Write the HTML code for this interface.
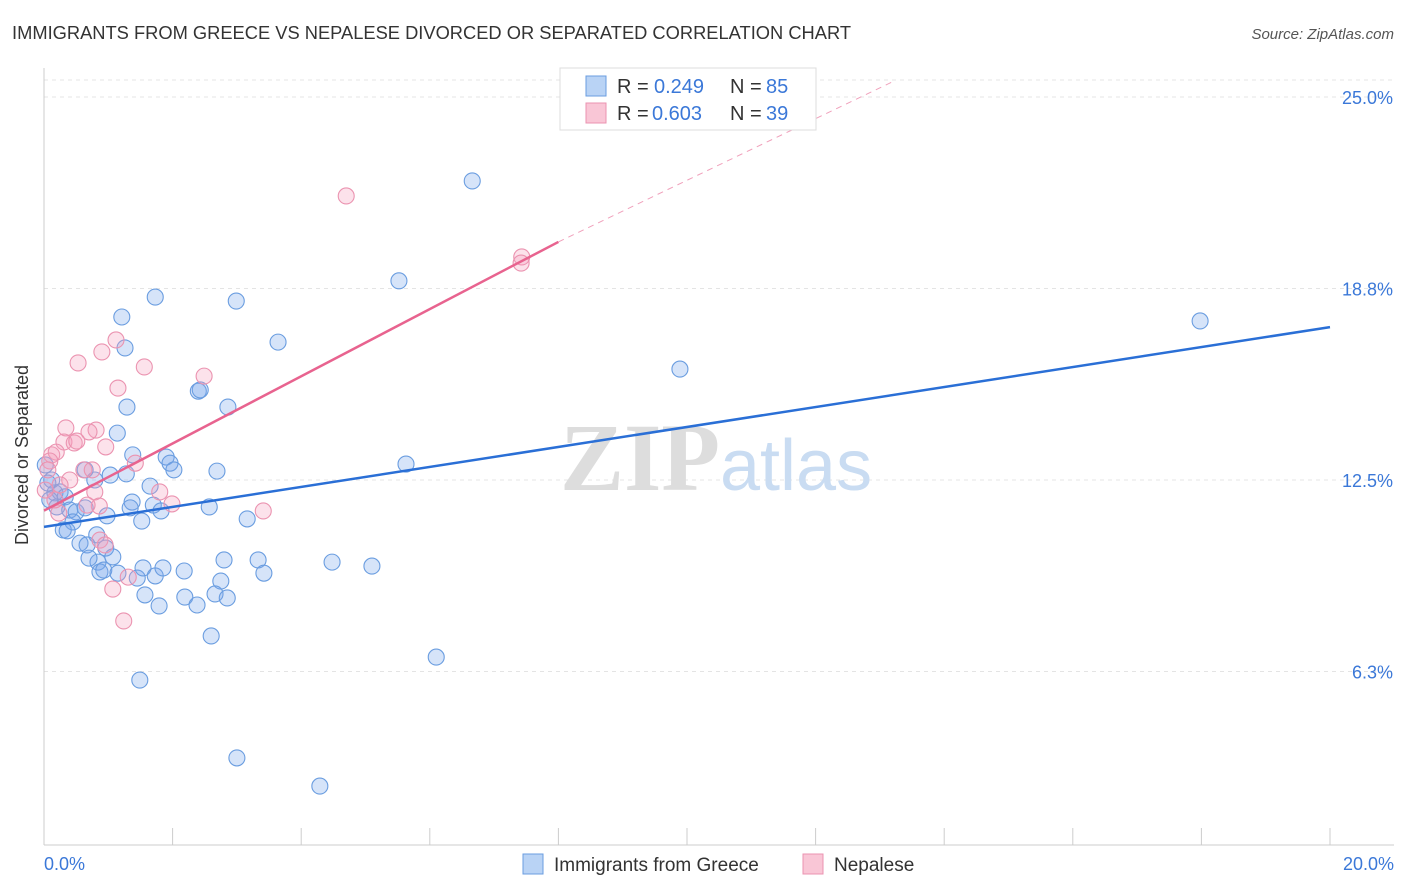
<!DOCTYPE html>
<html><head><meta charset="utf-8"><style>
body{margin:0;background:#fff;font-family:"Liberation Sans",sans-serif;}
svg{display:block}
</style></head><body>
<svg width="1406" height="892" viewBox="0 0 1406 892">
<text x="12" y="39" font-size="18" fill="#333" textLength="839" lengthAdjust="spacingAndGlyphs">IMMIGRANTS FROM GREECE VS NEPALESE DIVORCED OR SEPARATED CORRELATION CHART</text>
<text x="1394" y="39" font-size="15" fill="#555" text-anchor="end" font-style="italic">Source: ZipAtlas.com</text>
<g id="grid"></g>
<text x="720" y="490" font-size="96" fill="#ddd" text-anchor="end" font-family="Liberation Serif" font-weight="bold">ZIP</text>
<text x="720" y="490" font-size="72" fill="#c9dcf2">atlas</text>
<g id="marks"></g>
<text x="28" y="455" font-size="18" fill="#333" text-anchor="middle" transform="rotate(-90 28 455)">Divorced or Separated</text>
<text x="44" y="870" font-size="18" fill="#3b78d8">0.0%</text>
<text x="1394" y="870" font-size="18" fill="#3b78d8" text-anchor="end">20.0%</text>
<g>
<rect x="560" y="68" width="256" height="62" fill="#fff" stroke="#ddd"/>
<rect x="586" y="76" width="20" height="20" fill="#b9d3f5" stroke="#6a9de0"/>
<rect x="586" y="103" width="20" height="20" fill="#f9c6d6" stroke="#eb93b0"/>
<text x="617" y="93" font-size="20" fill="#333">R =</text>
<text x="654" y="93" font-size="20" fill="#3b78d8">0.249</text>
<text x="730" y="93" font-size="20" fill="#333">N =</text>
<text x="766" y="93" font-size="20" fill="#3b78d8">85</text>
<text x="617" y="120" font-size="20" fill="#333">R =</text>
<text x="652" y="120" font-size="20" fill="#3b78d8">0.603</text>
<text x="730" y="120" font-size="20" fill="#333">N =</text>
<text x="766" y="120" font-size="20" fill="#3b78d8">39</text>
</g>
<g>
<rect x="523" y="854" width="20" height="20" fill="#b9d3f5" stroke="#6a9de0"/>
<text x="554" y="871" font-size="19" fill="#333">Immigrants from Greece</text>
<rect x="803" y="854" width="20" height="20" fill="#f9c6d6" stroke="#eb93b0"/>
<text x="834" y="871" font-size="19" fill="#333">Nepalese</text>
</g>
</svg>
<script>
const yTicks=[25,18.75,12.5,6.25];
const yTickLabels=["25.0%","18.8%","12.5%","6.3%"];
const xTicks=[0,2,4,6,8,10,12,14,16,18,20];
const blueX=[6.66,5.52,1.73,2.99,1.21,3.64,1.26,9.89,17.98,2.40,2.43,2.86,1.29,1.14,1.90,1.96,2.02,1.38,2.69,1.03,1.28,5.63,1.65,1.37,1.70,2.57,1.82,1.34,3.16,1.52,0.98,0.79,0.64,0.12,0.17,0.25,0.33,0.20,0.40,0.50,0.64,0.45,0.30,0.36,0.82,0.56,0.67,0.96,1.07,0.84,0.70,0.87,0.93,1.15,1.45,1.54,1.73,1.85,2.18,2.80,3.33,3.42,4.48,5.10,2.75,1.57,1.79,2.19,2.38,2.66,2.85,2.60,6.10,1.49,3.00,4.29,0.06,0.09,0.02];
const blueY=[22.26,19.0,18.47,18.34,17.82,17.0,16.81,16.12,17.69,15.40,15.44,14.88,14.88,14.03,13.25,13.05,12.83,13.32,12.79,12.66,12.70,13.02,12.30,11.78,11.68,11.62,11.49,11.59,11.23,11.16,11.33,12.50,12.83,12.50,12.08,12.11,11.95,11.62,11.52,11.46,11.59,11.13,10.87,10.84,10.71,10.44,10.38,10.28,9.99,9.82,9.95,9.50,9.56,9.46,9.30,9.63,9.37,9.63,9.53,9.89,9.89,9.46,9.82,9.69,9.20,8.75,8.39,8.68,8.42,8.78,8.65,7.41,6.72,5.97,3.43,2.51,12.40,11.85,12.99];
const pinkX=[4.70,7.43,7.42,1.12,0.90,1.56,0.53,1.15,2.49,0.34,0.31,0.47,0.51,0.81,0.70,0.96,0.12,0.19,0.09,1.42,0.62,0.75,0.40,0.79,1.80,0.86,1.99,0.67,0.23,3.41,0.87,1.31,1.07,1.24,0.25,0.06,0.17,0.02,0.95];
const pinkY=[21.77,19.78,19.58,17.07,16.68,16.19,16.32,15.50,15.89,14.20,13.74,13.71,13.77,14.13,14.07,13.58,13.32,13.41,13.12,13.05,12.83,12.83,12.50,12.11,12.11,11.65,11.72,11.68,11.42,11.49,10.54,9.33,8.94,7.90,12.34,12.83,11.85,12.17,10.38];
const blueTrend=[0,10.97,20,17.49];
const pinkTrend=[0,11.5,8,20.27,13.2,25.5];
const NS='http://www.w3.org/2000/svg';
const sx=v=>44+v*64.3, sy=v=>863-v*30.64;
function mk(tag,attrs,parent){const e=document.createElementNS(NS,tag);for(const k in attrs)e.setAttribute(k,attrs[k]);parent.appendChild(e);return e;}
const grid=document.getElementById('grid'), marks=document.getElementById('marks');
let e=mk('line',{x1:44,x2:1394,y1:80,y2:80,stroke:'#e4e4e4','stroke-dasharray':'4,4'},grid);


yTicks.forEach((t,i)=>{
 let g=mk('line',{x1:44,x2:1394,y1:sy(t),y2:sy(t),stroke:'#e4e4e4','stroke-dasharray':'4,4'},grid);
 
 
 let l=mk('text',{x:1393,y:sy(t)+7,'font-size':18,fill:'#3b78d8','text-anchor':'end'},grid);
 l.textContent=yTickLabels[i];
 
 
});
e=mk('line',{x1:44,x2:44,y1:68,y2:845,stroke:'#ccc'},grid);


e=mk('line',{x1:44,x2:1394,y1:845,y2:845,stroke:'#ccc'},grid);


xTicks.forEach(t=>{let k=mk('line',{x1:sx(t),x2:sx(t),y1:828,y2:845,stroke:'#ccc'},grid);
 
 });
blueX.forEach((x,i)=>{let c=mk('circle',{cx:sx(x),cy:sy(blueY[i]),r:8,fill:'rgba(120,165,235,0.3)',stroke:'#6a9de0','stroke-width':1.1},marks);
 
 });
pinkX.forEach((x,i)=>{let c=mk('circle',{cx:sx(x),cy:sy(pinkY[i]),r:8,fill:'rgba(245,160,190,0.3)',stroke:'#eb93b0','stroke-width':1.1},marks);
 
 });
e=mk('line',{x1:sx(blueTrend[0]),y1:sy(blueTrend[1]),x2:sx(blueTrend[2]),y2:sy(blueTrend[3]),stroke:'#2a6fd6','stroke-width':2.5},marks);


e=mk('line',{x1:sx(pinkTrend[0]),y1:sy(pinkTrend[1]),x2:sx(pinkTrend[2]),y2:sy(pinkTrend[3]),stroke:'#e8638f','stroke-width':2.5},marks);


e=mk('line',{x1:sx(pinkTrend[2]),y1:sy(pinkTrend[3]),x2:sx(pinkTrend[4]),y2:sy(pinkTrend[5]),stroke:'#f0a0bb','stroke-width':1,'stroke-dasharray':'6,5'},marks);


</script>
</body></html>
